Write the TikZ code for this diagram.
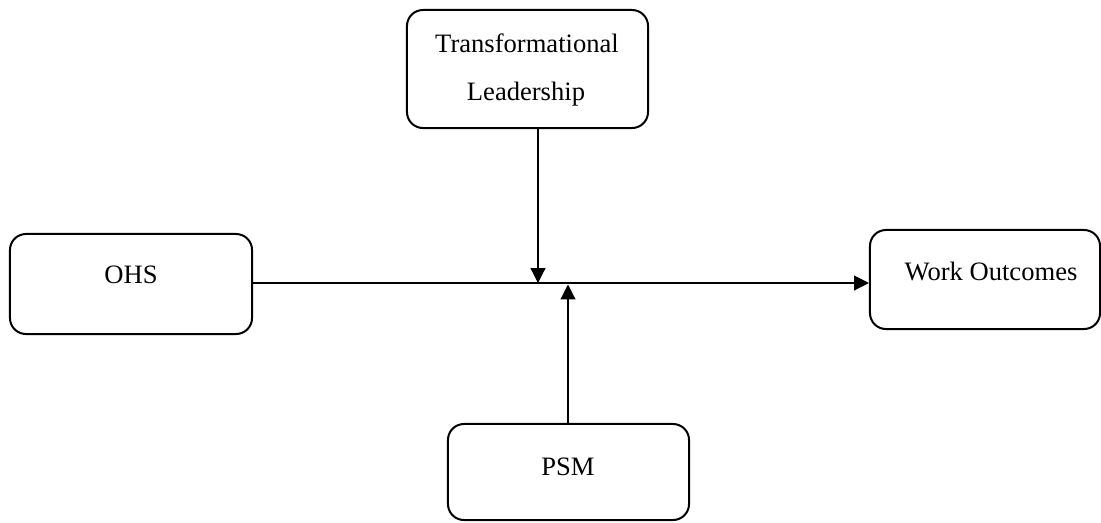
\documentclass[tikz,border=0pt]{standalone}
\usepackage{fontspec}
\setmainfont{Liberation Serif}
\usetikzlibrary{arrows.meta}
\tikzset{
	box/.style={draw, line width=0.05cm, rounded corners=0.4cm, inner sep=0pt},
	label text/.style={font=\fontsize{18.9}{22}\selectfont, inner sep=0pt, anchor=base},
	link/.style={line width=0.03cm, -{Triangle[length=0.37cm, width=0.37cm]}}
}

\begin{document}
\begin{tikzpicture}[x=0.025cm, y=-0.025cm]
			%%%%% START %%%%%
			\useasboundingbox (0, 0) rectangle (1101, 522);
			
			\node[box, minimum width=6.025cm, minimum height=2.95cm] (lead) at (527.5, 69) {};
			\node[label text] (leadA) at (527, 52) {Transformational};
			\node[label text] (leadB) at (526, 100) {Leadership};
			
			\node[box, minimum width=6.05cm, minimum height=2.5cm] (ohs) at (131, 284) {};
			\node[label text] (ohsT) at (131, 283) {OHS};
			
			\node[box, minimum width=5.75cm, minimum height=2.475cm] (work) at (985, 279.5) {};
			\node[label text] (workT) at (991, 280) {Work Outcomes};
			
			\node[box, minimum width=6.025cm, minimum height=2.4cm] (psm) at (568.5, 472) {};
			\node[label text] (psmT) at (568, 475) {PSM};
			
			\coordinate (down) at (538, 283);
			\coordinate (up) at (568, 284.5);
			
			\draw[link] (ohs.east |- 0, 283) -- (work.west |- 0, 283);
			\draw[link] (lead.south -| down) -- (down);
			\draw[link] (psm.north -| up) -- (up);
			%%%%% END %%%%%
		\end{tikzpicture}
\end{document}
